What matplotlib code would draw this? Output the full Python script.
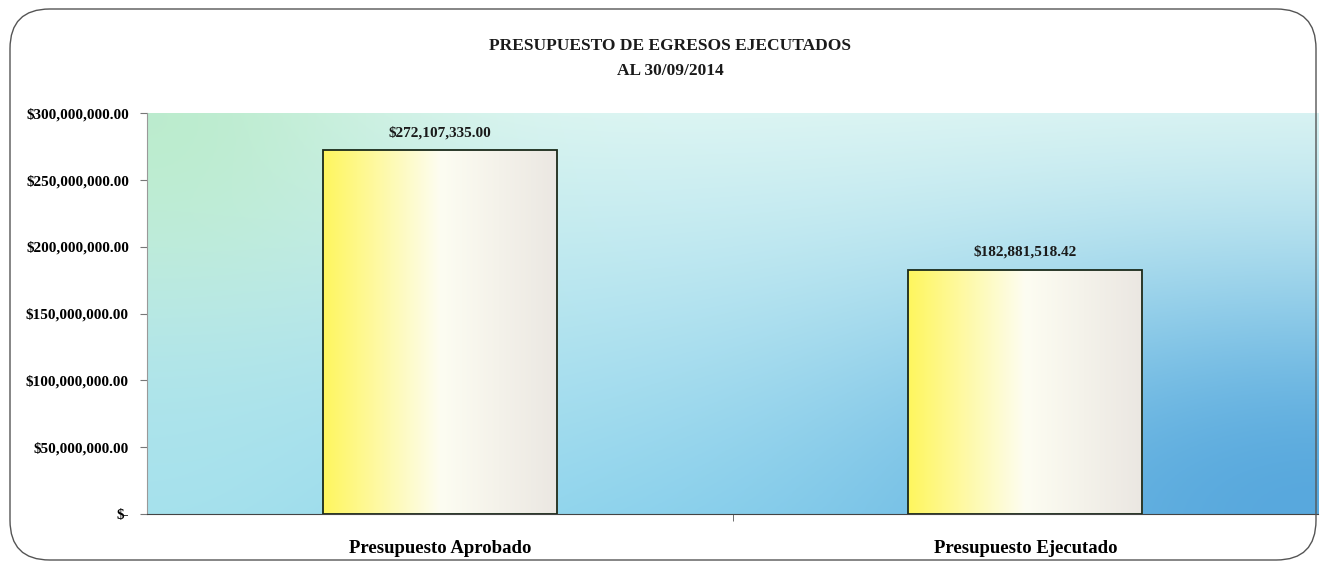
import numpy as np
import matplotlib.pyplot as plt
from matplotlib.colors import to_rgb
from matplotlib.patches import FancyBboxPatch
from matplotlib.ticker import FuncFormatter

categories = ['Presupuesto Aprobado', 'Presupuesto Ejecutado']
values = [272107335.00, 182881518.42]
yticks = [0, 50e6, 100e6, 150e6, 200e6, 250e6, 300e6]

plt.rcParams['font.family'] = ['Liberation Serif', 'DejaVu Serif']
plt.rcParams['font.weight'] = 'bold'

fig = plt.figure(figsize=(13.24, 5.69), dpi=100)
fig.patch.set_facecolor('white')
ax = fig.add_axes([147/1324, 1 - 514/569, (1318-147)/1324, (514-113)/569])

# rounded chart frame
frame = FancyBboxPatch((10/1324, 9/569), 1306/1324, 551/569,
                       boxstyle='round,pad=0,rounding_size=0.03',
                       transform=fig.transFigure, facecolor='none',
                       edgecolor='#555555', linewidth=1.0, mutation_aspect=1324/569)
fig.patches.append(frame)

# plot area gradient background: light cyan top -> cyan bottom,
# green tint top-left, deeper blue bottom-right
n = 300
u, v = np.meshgrid(np.linspace(0, 1, n), np.linspace(1, 0, n))
top, bot = np.array(to_rgb('#dcf5f3')), np.array(to_rgb('#92d6ee'))
img = v[..., None]*top + (1-v)[..., None]*bot
w_g = np.exp(-((u/0.22)**2 + ((1-v)/0.55)**2))[..., None]
img = img*(1-w_g) + w_g*np.array(to_rgb('#bcecce'))
w_l = np.exp(-((u/0.25)**2 + (v/0.5)**2))[..., None]*0.6
img = img*(1-w_l) + w_l*np.array(to_rgb('#b2e8ec'))
w_b = np.exp(-(((1-u)/0.38)**2 + (v/0.55)**2))[..., None]
img = img*(1-w_b) + w_b*np.array(to_rgb('#58a8dd'))
ax.imshow(img, extent=(0, 1, 0, 1), transform=ax.transAxes, aspect='auto', zorder=0)

x = np.arange(len(categories))
bars = ax.bar(x, values, width=0.4, facecolor='none', edgecolor='#1a2a1a', linewidth=1.3, zorder=3)

# horizontal yellow -> white -> light gray gradient inside bars
s = np.linspace(0, 1, 256)[:, None]
c_y, c_w, c_g = np.array(to_rgb('#fff65e')), np.array(to_rgb('#fdfdf2')), np.array(to_rgb('#ebe7e2'))
grad = np.where(s < 0.5, c_y + (c_w - c_y) * (s / 0.5), c_w + (c_g - c_w) * ((s - 0.5) / 0.5))
grad = grad[None, :, :]
for b in bars:
    im = ax.imshow(grad, extent=(b.get_x(), b.get_x() + b.get_width(), 0, b.get_height()),
                   aspect='auto', zorder=2)
    im.set_clip_path(b)

for xi, val in zip(x, values):
    ax.annotate('${:,.2f}'.format(val), (xi, val), xytext=(0, 8), textcoords='offset points',
                ha='center', va='bottom', fontsize=11, fontweight='bold', color='#1a1a1a')

ax.set_xlim(-0.5, 1.5)
ax.set_ylim(0, 300e6)
ax.set_yticks(yticks)
ax.yaxis.set_major_formatter(FuncFormatter(lambda v_, p: '$-' if v_ == 0 else '${:,.2f}'.format(v_)))
ax.set_xticks(x)
ax.set_xticklabels(categories, fontsize=13.5, fontweight='bold')
ax.tick_params(axis='x', length=0, pad=19)
ax.set_xticks([0.5], minor=True)
ax.tick_params(axis='x', which='minor', length=5, color='#555555')
ax.tick_params(axis='y', length=5, color='#777777', labelsize=11, pad=8)
for lbl in ax.get_yticklabels():
    lbl.set_fontweight('bold')

for side in ['top', 'right']:
    ax.spines[side].set_visible(False)
ax.spines['left'].set_color('#999999')
ax.spines['bottom'].set_color('#444444')

fig.text(670/1324, 1 - 46/569, 'PRESUPUESTO DE EGRESOS EJECUTADOS', ha='center', va='center',
         fontsize=12.5, fontweight='bold', color='#1a1a1a')
fig.text(670/1324, 1 - 71/569, 'AL 30/09/2014', ha='center', va='center',
         fontsize=12.5, fontweight='bold', color='#1a1a1a')

fig.savefig('out.png', dpi=100)
